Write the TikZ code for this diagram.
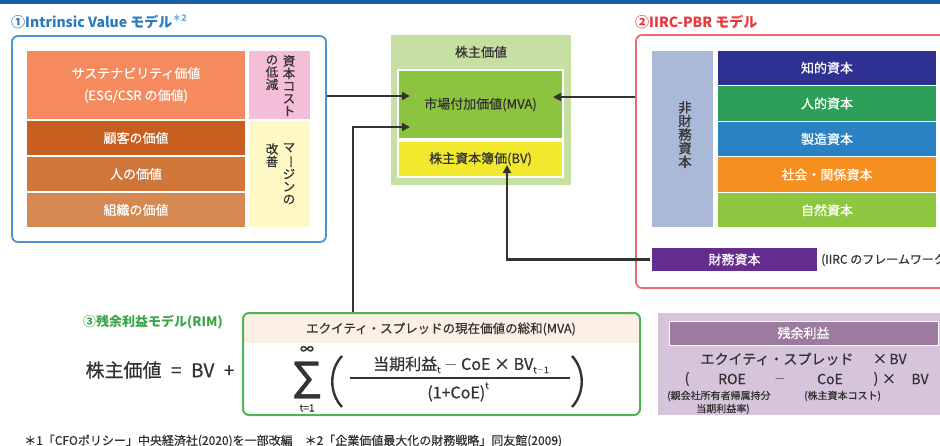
\documentclass[tikz,border=0pt]{standalone}
\usepackage{fontspec}
\usepackage{graphicx}
\setmainfont{Noto Sans CJK JP}[UprightFeatures={FakeBold=0.6}]
\usetikzlibrary{arrows.meta,calc}
\definecolor{topblue}{HTML}{1B5EA8}
\definecolor{ivblue}{HTML}{4A92D2}
\definecolor{ivtitle}{HTML}{2B7BBD}
\definecolor{ivsup}{HTML}{6AA8DC}
\definecolor{sal}{HTML}{F48A5E}
\definecolor{orA}{HTML}{C75F20}
\definecolor{orB}{HTML}{D0763A}
\definecolor{orC}{HTML}{D5884F}
\definecolor{pinkc}{HTML}{F5BED8}
\definecolor{yelc}{HTML}{FFF9C6}
\definecolor{lgreen}{HTML}{C6E0A4}
\definecolor{mgreen}{HTML}{8CC43F}
\definecolor{bvyel}{HTML}{F2E82D}
\definecolor{iircred}{HTML}{EE6A6E}
\definecolor{iirctitle}{HTML}{E8383D}
\definecolor{nfin}{HTML}{A9B9D7}
\definecolor{cA}{HTML}{2E3192}
\definecolor{cB}{HTML}{2CA058}
\definecolor{cC}{HTML}{2A82C5}
\definecolor{cD}{HTML}{F58F20}
\definecolor{cE}{HTML}{8DC63F}
\definecolor{zaimuc}{HTML}{662D91}
\definecolor{rimgreen}{HTML}{4DB552}
\definecolor{rimtitle}{HTML}{3AA64A}
\definecolor{peach}{HTML}{FCEFE4}
\definecolor{lilac}{HTML}{D6C4DA}
\definecolor{purp}{HTML}{9D7AA0}
\definecolor{dark}{HTML}{333333}
\newcommand\vbar{\rotatebox[origin=c]{-90}{ー}}
\newcommand\sbs[1]{\raisebox{-0.2em}{\fontsize{9}{9}\selectfont #1}}
\newcommand\mns{\raisebox{0.05em}{$-$}}
\begin{document}
\begin{tikzpicture}[x=1pt,y=-1pt,
  frame/.style={rectangle,rounded corners=6pt,line width=1.8pt,inner sep=0pt},
  blk/.style={rectangle,draw=white,line width=1.2pt,inner sep=0pt,align=center,text=white,font=\fontsize{13}{22}\selectfont},
  vtxt/.style={inner sep=0pt,align=center,text=dark,font=\fontsize{12.5}{12.5}\selectfont},
  lab/.style={inner sep=0pt,text=dark,font=\fontsize{13}{15}\selectfont},
  arr/.style={draw=dark,line width=2.2pt,-{Triangle[length=8pt,width=8pt]}},
  small/.style={inner sep=0pt,text=dark,font=\fontsize{10}{12}\selectfont}]
\useasboundingbox (0,0) rectangle (940,445);
\clip (0,0) rectangle (940,445);
\fill[white] (0,0) rectangle (940,445);
\fill[topblue] (0,0) rectangle (940,3.5);

% ---------- Intrinsic Value
\node[anchor=west,inner sep=0pt,text=ivtitle,font=\bfseries\fontsize{14}{16}\selectfont] (ivt) at (11,22) {①Intrinsic Value モデル\textcolor{ivsup}{\raisebox{0.45em}{\fontsize{9}{9}\selectfont ＊2}}};
\node[frame,draw=ivblue,minimum width=314,minimum height=206] (iv) at (169,139) {};
\node[blk,fill=sal,minimum width=220,minimum height=70] (sus) at (136,85) {サステナビリティ価値\\(ESG/CSR の価値)};
\node[blk,fill=orA,minimum width=220,minimum height=36] (kok) at (136,138) {顧客の価値};
\node[blk,fill=orB,minimum width=220,minimum height=36] (hito) at (136,174) {人の価値};
\node[blk,fill=orC,minimum width=220,minimum height=36] (sosh) at (136,210) {組織の価値};
\node[blk,fill=pinkc,minimum width=63,minimum height=70] (pink) at (279.5,85) {};
\node[blk,fill=yelc,minimum width=63,minimum height=108] (yel) at (279.5,174) {};
\node[vtxt,anchor=north] (pk1) at (289,55) {資\\本\\コ\\ス\\ト};
\node[vtxt,anchor=north] (pk2) at (272,55) {の\\低\\減};
\node[vtxt,anchor=north] (yl1) at (289,143) {マ\\\vbar\\ジ\\ン\\の};
\node[vtxt,anchor=north] (yl2) at (272,143) {改\\善};

% ---------- Shareholder value
\node[rectangle,fill=lgreen,inner sep=0pt,minimum width=180,minimum height=150] (kv) at (481,110) {};
\node[lab] (kvt) at (481,52) {株主価値};
\node[blk,fill=mgreen,text=dark,minimum width=165,minimum height=69] (mva) at (480.5,104.5) {市場付加価値(MVA)};
\node[blk,fill=bvyel,text=dark,minimum width=165,minimum height=36] (bv) at (480.5,159) {株主資本簿価(BV)};

% ---------- IIRC
\node[anchor=west,inner sep=0pt,text=iirctitle,font=\bfseries\fontsize{14}{16}\selectfont] (iirct) at (635,22) {②IIRC-PBR モデル};
\node[frame,draw=iircred,minimum width=330,minimum height=253] (iirc) at (801,161.5) {};
\node[blk,fill=nfin,minimum width=63,minimum height=178] (nf) at (682.5,139) {};
\node[vtxt,anchor=north,font=\fontsize{13.5}{13.6}\selectfont] (nft) at (685,101) {非\\財\\務\\資\\本};
\node[blk,fill=cA,minimum width=220,minimum height=35.6] (chi) at (827,67.8) {知的資本};
\node[blk,fill=cB,minimum width=220,minimum height=35.6] (jin) at (827,103.4) {人的資本};
\node[blk,fill=cC,minimum width=220,minimum height=35.6] (sei) at (827,139) {製造資本};
\node[blk,fill=cD,minimum width=220,minimum height=35.6] (sha) at (827,174.6) {社会・関係資本};
\node[blk,fill=cE,minimum width=220,minimum height=35.6] (shi) at (827,210.2) {自然資本};
\node[blk,fill=zaimuc,minimum width=167,minimum height=25] (zm) at (734.5,259.5) {財務資本};
\node[anchor=west,inner sep=0pt,text=dark,font=\fontsize{12}{14}\selectfont] (fw) at (821,260) {(IIRC のフレームワーク)};

% ---------- RIM
\node[inner sep=0pt,text=rimtitle,font=\bfseries\fontsize{13}{15}\selectfont] (rimt) at (153,322) {③残余利益モデル(RIM)};
\begin{scope}
\clip[rounded corners=6pt] (243,313) rectangle (640,415);
\fill[peach] (243,313) rectangle (640,343);
\end{scope}
\node[frame,draw=rimgreen,line width=2pt,minimum width=397,minimum height=102] (rim) at (441.5,364) {};
\node[lab,font=\fontsize{12.5}{14}\selectfont] (rimh) at (441,329) {エクイティ・スプレッドの現在価値の総和(MVA)};
\node[lab,font=\fontsize{19}{21}\selectfont] (eq) at (160,370) {株主価値\enspace=\enspace{}BV\enspace+};
\node[lab,font=\fontsize{50}{50}\selectfont] (sig) at (307,380) {Σ};
\node[lab,font=\fontsize{14}{14}\selectfont] (inf) at (307,350) {∞};
\node[lab,font=\fontsize{10}{10}\selectfont] (t1) at (307,408) {t=1};
\draw[dark,line width=2.4pt] (342,356) .. controls (329,370) and (329,393) .. (342,407);
\draw[dark,line width=2.4pt] (572,356) .. controls (585,370) and (585,393) .. (572,407);
\node[lab,font=\fontsize{16}{18}\selectfont] (num) at (461,365) {当期利益\sbs{t} \mns{} CoE × BV\sbs{t\mns 1}};
\node[lab,font=\fontsize{16}{18}\selectfont] (den) at (458,392) {(1+CoE)\raisebox{0.6em}{\fontsize{9}{9}\selectfont t}};
\coordinate (fl1) at (350,378);
\coordinate (fl2) at (570,378);
\draw[dark,line width=1.2pt] (fl1) -- (fl2);

% ---------- residual profit
\node[rectangle,fill=lilac,inner sep=0pt,minimum width=302,minimum height=102] (ri) at (809,364) {};
\node[blk,fill=purp,line width=1pt,minimum width=269,minimum height=24] (rih) at (803.5,333) {残余利益};
\node[lab,font=\fontsize{14}{16}\selectfont] (es) at (777,359) {エクイティ・スプレッド};
\node[lab,font=\fontsize{14}{16}\selectfont] (x1) at (880,359) {×};
\node[lab,font=\fontsize{14}{16}\selectfont] (bv1) at (898,359) {BV};
\node[lab,font=\fontsize{14}{16}\selectfont] (p1) at (687,379) {(};
\node[lab,font=\fontsize{14}{16}\selectfont] (roe) at (732,379) {ROE};
\node[lab,font=\fontsize{14}{16}\selectfont] (mn) at (780,379) {\mns};
\node[lab,font=\fontsize{14}{16}\selectfont] (coe) at (830,379) {CoE};
\node[lab,font=\fontsize{14}{16}\selectfont] (p2) at (876,379) {)};
\node[lab,font=\fontsize{14}{16}\selectfont] (x2) at (889,379) {×};
\node[lab,font=\fontsize{14}{16}\selectfont] (bv2) at (920,379) {BV};
\node[small,anchor=west] (n1) at (667,396) {(親会社所有者帰属持分};
\node[small,anchor=west] (n2) at (804,396) {(株主資本コスト)};
\node[small] (n3) at (723,409) {当期利益率)};

% ---------- connectors
\coordinate (m1) at (410,96);
\draw[arr] (iv.east |- m1) -- (m1);
\coordinate (x2c) at (353,0);
\coordinate (m2) at (410,127);
\draw[arr] (rim.north -| x2c) |- (m2);
\coordinate (m3) at (553,97);
\draw[arr] (iirc.west |- m3) -- (m3);
\coordinate (m4) at (507,165);
\draw[arr] (zm.west) -| (m4);

% ---------- footnote
\node[anchor=west,inner sep=0pt,text=dark,font=\fontsize{12}{14}\selectfont] (foot) at (24,441) {＊1「CFOポリシー」中央経済社(2020)を一部改編\quad ＊2「企業価値最大化の財務戦略」同友館(2009)};
\end{tikzpicture}
\end{document}
